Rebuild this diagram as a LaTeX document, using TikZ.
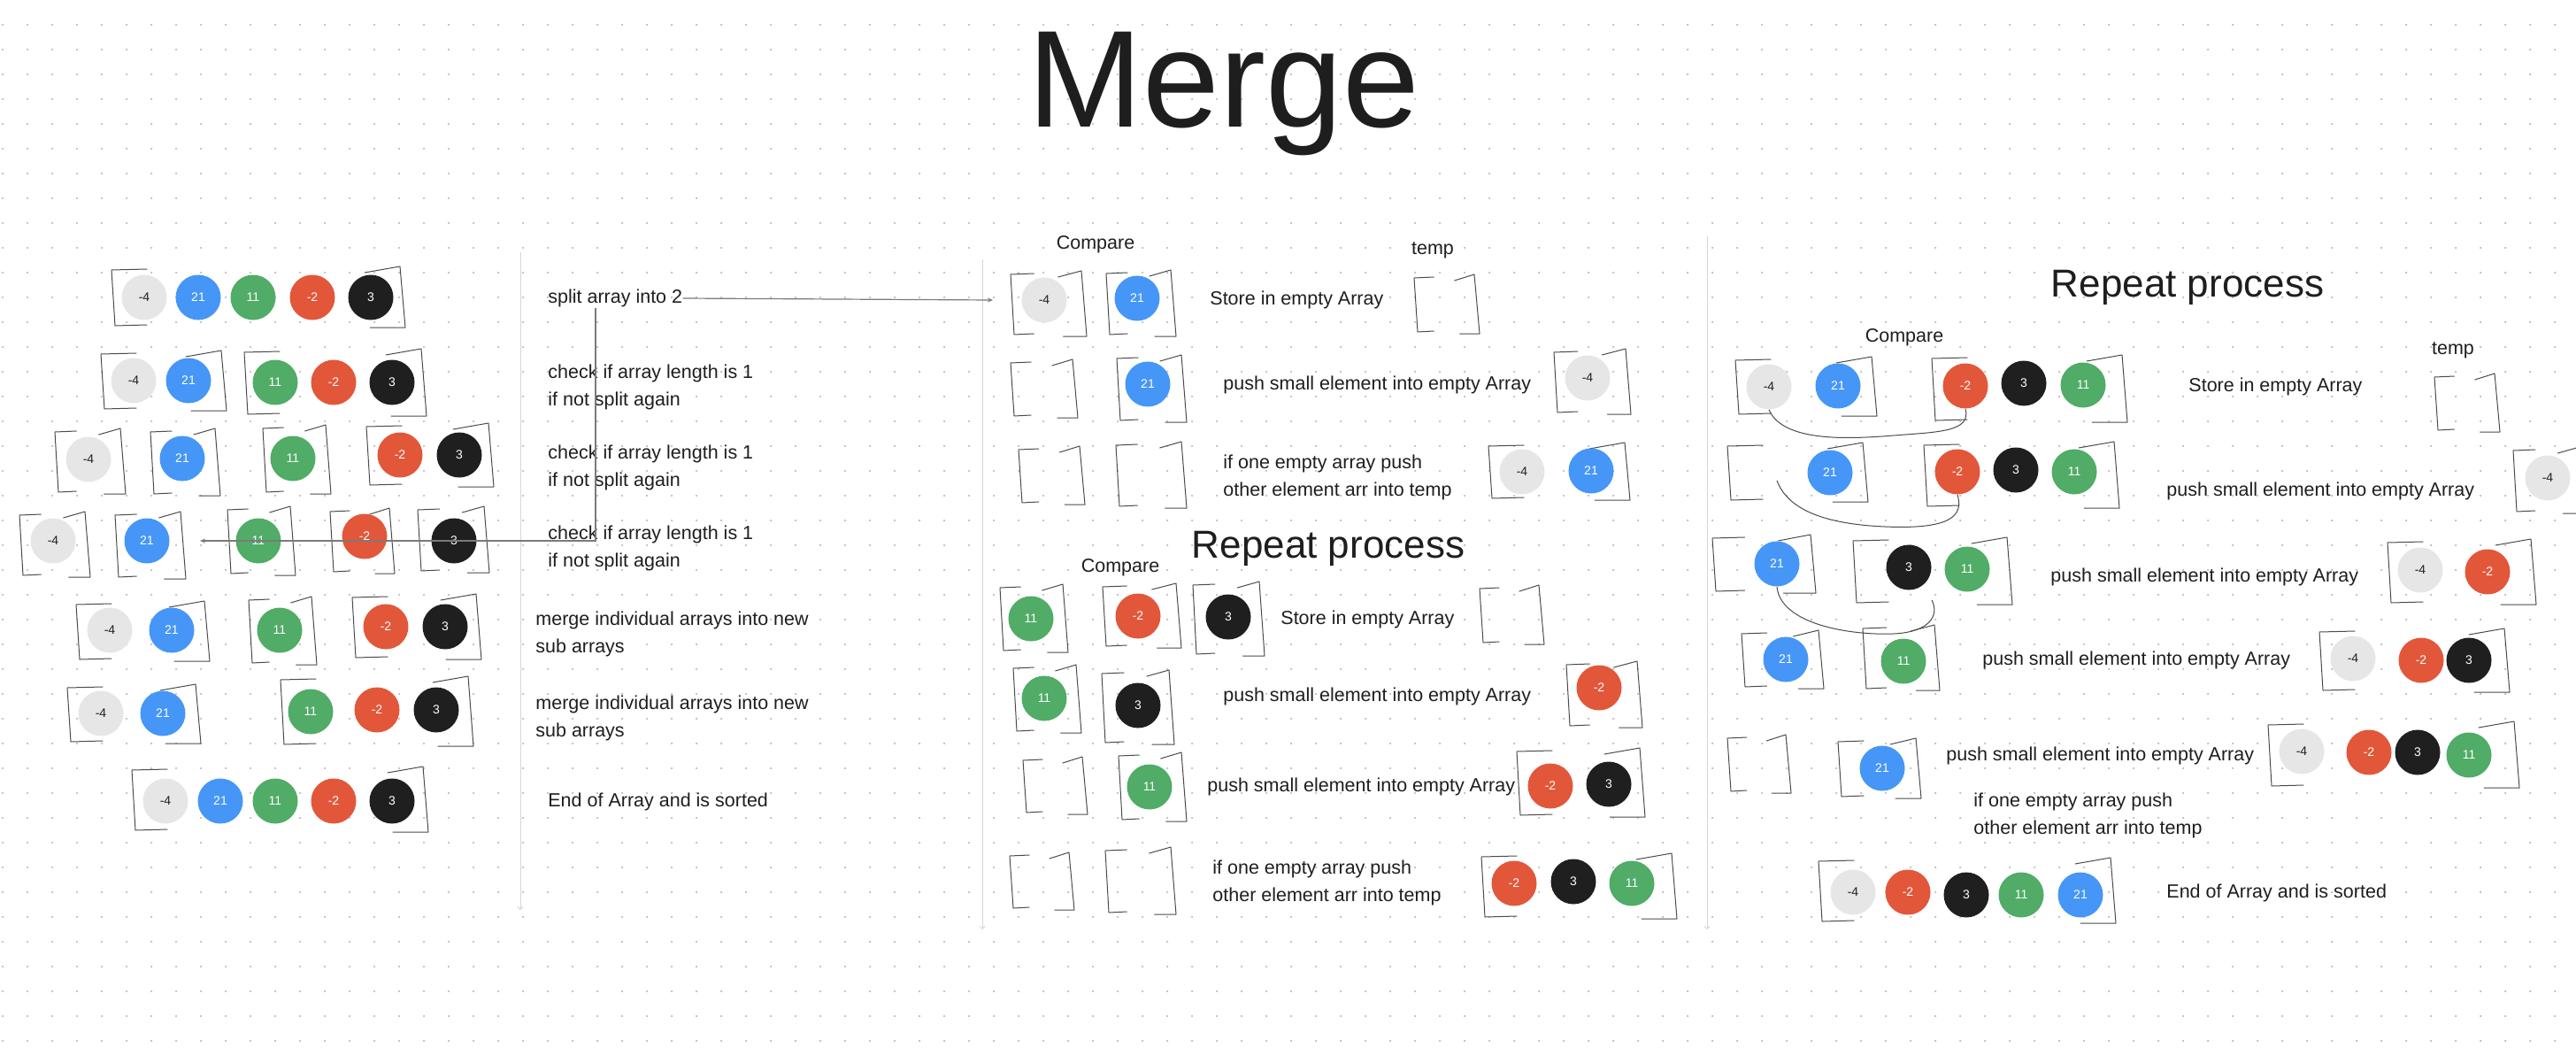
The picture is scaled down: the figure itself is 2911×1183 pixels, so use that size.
\documentclass[tikz,border=0pt]{standalone}
\usepackage{fontspec}
\setmainfont{Liberation Sans}
\usetikzlibrary{arrows.meta}
\definecolor{ink}{HTML}{1E1E1E}
\definecolor{elgray}{HTML}{E6E6E6}
\definecolor{elblue}{HTML}{4596F7}
\definecolor{elgreen}{HTML}{50AC66}
\definecolor{elred}{HTML}{E2573A}
\definecolor{elblack}{HTML}{1F1F1F}
\definecolor{dotgray}{HTML}{B4B4B4}
\definecolor{sepgray}{HTML}{D6D6D6}
\definecolor{linkgray}{HTML}{7A7A7A}
% hand drawn array brackets: x1 y1 x2 y2
\newcommand{\arrbox}[4]{%
  \pgfmathsetmacro{\tk}{min(40,0.33*(#3-#1))}%
  \draw[brk] ({#1+\tk},{#2-1}) -- (#1,#2) -- ({#1+4},#4) -- ({#1+\tk},{#4-1});
  \draw[brk] ({#3-\tk},{#2+3}) -- (#3,{#2-4}) -- ({#3+6},{#4+2}) -- ({#3-\tk+6},{#4+2});
}
\begin{document}
\begin{tikzpicture}[x=0.5pt,y=-0.5pt,
  el/.style={circle,minimum size=25.5pt,inner sep=0pt,font=\fontsize{7}{8}\selectfont},
  nm4/.style={el,fill=elgray,text=ink},
  n21/.style={el,fill=elblue,text=white},
  n11/.style={el,fill=elgreen,text=white},
  nm2/.style={el,fill=elred,text=white},
  n3/.style={el,fill=elblack,text=white},
  brk/.style={draw=ink!80,line width=0.5pt,line cap=round,line join=round},
  txt/.style={anchor=west,inner sep=0pt,align=left,text=ink,font=\fontsize{10.75}{15.5}\selectfont},
  lbl/.style={inner sep=0pt,text=ink,font=\fontsize{10.75}{13}\selectfont},
  heading/.style={inner sep=0pt,text=ink,font=\fontsize{22}{26}\selectfont},
  divider/.style={draw=sepgray,line width=0.5pt,-{Straight Barb[length=1.5pt,width=3pt]}},
  link/.style={draw=linkgray,line width=0.6pt,-{Stealth[length=3pt,width=2.5pt]}},
  cmpline/.style={draw=ink!80,line width=0.5pt},
  dotrow/.style={draw=dotgray,line width=1.1pt,line cap=round,dash pattern=on 0.1pt off 13.9pt}]
\useasboundingbox (0,0) rectangle (2911,1183);
\foreach \y in {28,56,...,1176} \draw[dotrow] (3,\y) -- (2911,\y);

\node[inner sep=0pt,anchor=base,text=ink,font=\fontsize{78}{80}\selectfont] (title) at (1383,143) {Merge};

\draw[divider] (588,285) -- (588,1028);
\draw[divider] (1110,293) -- (1110,1050);
\draw[divider] (1929,267) -- (1929,1050);

%%% left column: split then merge
\arrbox{126}{305}{452}{368}
\node[nm4] (a1-m4) at (163,336) {-4};
\node[n21] (a1-21) at (224,336) {21};
\node[n11] (a1-11) at (286,336) {11};
\node[nm2] (a1-m2) at (353,336) {-2};
\node[n3]  (a1-3)  at (419,336) {3};
\node[txt] (a1-txt) at (619,337) {split array into 2};

\arrbox{114}{400}{250}{462}
\arrbox{276}{398}{476}{468}
\node[nm4] (a2-m4) at (151,430) {-4};
\node[n21] (a2-21) at (213,430) {21};
\node[n11] (a2-11) at (311,432) {11};
\node[nm2] (a2-m2) at (377,432) {-2};
\node[n3]  (a2-3)  at (443,432) {3};
\node[txt] (a2-txt) at (619,437.5) {check if array length is 1\\if not split again};

\arrbox{62}{488}{136}{556}
\arrbox{170}{488}{243}{558}
\arrbox{297}{484}{368}{556}
\arrbox{414}{482}{552}{548}
\node[nm4] (a3-m4) at (100,519) {-4};
\node[n21] (a3-21) at (206,518) {21};
\node[n11] (a3-11) at (331,518) {11};
\node[nm2] (a3-m2) at (452,514) {-2};
\node[n3]  (a3-3)  at (519,514) {3};
\node[txt] (a3-txt) at (619,528) {check if array length is 1\\if not split again};

\arrbox{22}{582}{96}{650}
\arrbox{130}{582}{204}{652}
\arrbox{257}{576}{328}{648}
\arrbox{373}{578}{440}{646}
\arrbox{472}{576}{547}{645}
\node[nm4] (a4-m4) at (60,611) {-4};
\node[n21] (a4-21) at (166,611) {21};
\node[n11] (a4-11) at (292,611) {11};
\node[nm2] (a4-m2) at (412,606) {-2};
\node[n3]  (a4-3)  at (513,611) {3};
\node[txt] (a4-txt) at (619,619) {check if array length is 1\\if not split again};

\arrbox{86}{683}{231}{745}
\arrbox{281}{678}{352}{749}
\arrbox{398}{675}{538}{743}
\node[nm4] (a5-m4) at (124,712) {-4};
\node[n21] (a5-21) at (194,712) {21};
\node[n11] (a5-11) at (316,712) {11};
\node[nm2] (a5-m2) at (436,708) {-2};
\node[n3]  (a5-3)  at (503,708) {3};
\node[txt] (a5-txt) at (605,716.5) {merge individual arrays into new\\sub arrays};

\arrbox{76}{777}{221}{838}
\arrbox{317}{768}{529}{841}
\node[nm4] (a6-m4) at (114,806) {-4};
\node[n21] (a6-21) at (184,806) {21};
\node[n11] (a6-11) at (351,804) {11};
\node[nm2] (a6-m2) at (426,802) {-2};
\node[n3]  (a6-3)  at (493,802) {3};
\node[txt] (a6-txt) at (605,811.5) {merge individual arrays into new\\sub arrays};

\arrbox{149}{870}{478}{938}
\node[nm4] (a7-m4) at (187,905) {-4};
\node[n21] (a7-21) at (249,905) {21};
\node[n11] (a7-11) at (311,905) {11};
\node[nm2] (a7-m2) at (377,905) {-2};
\node[n3]  (a7-3)  at (443,905) {3};
\node[txt] (a7-txt) at (619,906) {End of Array and is sorted};

\coordinate (b1-in) at (1122,339);
\coordinate (a-drop) at (673,348);
\coordinate (a4-back) at (226,611);
\draw[link] (a1-txt.east) -- (b1-in);
\draw[link] (a-drop) |- (a4-back);

%%% middle column
\node[lbl] (b-cmp) at (1238,276) {Compare};
\node[lbl] (b-temp) at (1619,283) {temp};

\arrbox{1142}{310}{1222}{378}
\arrbox{1250}{309}{1323}{378}
\arrbox{1598}{314}{1666}{375}
\node[nm4] (b1-m4) at (1180,339) {-4};
\node[n21] (b1-21) at (1285,337) {21};
\node[txt] (b1-txt) at (1367,339) {Store in empty Array};

\arrbox{1142}{410}{1212}{470}
\arrbox{1262}{405}{1335}{475}
\arrbox{1756}{398}{1837}{466}
\node[n21] (b2-21) at (1297,434) {21};
\node[nm4] (b2-m4) at (1794,427) {-4};
\node[txt] (b2-txt) at (1382,435) {push small element into empty Array};

\arrbox{1151}{508}{1220}{568}
\arrbox{1261}{503}{1335}{572}
\arrbox{1682}{504}{1836}{563}
\node[nm4] (b3-m4) at (1720,533) {-4};
\node[n21] (b3-21) at (1798,532) {21};
\node[txt] (b3-txt) at (1382,539) {if one empty array push\\other element arr into temp};

\node[heading] (b-rep) at (1501,620) {Repeat process};
\node[lbl] (b-cmp2) at (1266,641) {Compare};

\arrbox{1130}{664}{1201}{735}
\arrbox{1246}{663}{1329}{730}
\arrbox{1348}{661}{1423}{739}
\arrbox{1672}{665}{1739}{726}
\node[n11] (b4-11) at (1165,699) {11};
\node[nm2] (b4-m2) at (1286,696) {-2};
\node[n3]  (b4-3)  at (1388,697) {3};
\node[txt] (b4-txt) at (1447,700) {Store in empty Array};

\arrbox{1145}{755}{1216}{826}
\arrbox{1245}{761}{1321}{839}
\arrbox{1770}{751}{1850}{820}
\node[n11] (b5-11) at (1180,789) {11};
\node[n3]  (b5-3)  at (1286,797) {3};
\node[nm2] (b5-m2) at (1807,777) {-2};
\node[txt] (b5-txt) at (1382,787) {push small element into empty Array};

\arrbox{1156}{859}{1223}{918}
\arrbox{1264}{854}{1335}{926}
\arrbox{1714}{849}{1853}{921}
\node[n11] (b6-11) at (1299,889) {11};
\node[nm2] (b6-m2) at (1752,888) {-2};
\node[n3]  (b6-3)  at (1818,886) {3};
\node[txt] (b6-txt) at (1364,889) {push small element into empty Array};

\arrbox{1141}{967}{1208}{1026}
\arrbox{1249}{961}{1323}{1031}
\arrbox{1674}{968}{1889}{1036}
\node[nm2] (b7-m2) at (1711,998) {-2};
\node[n3]  (b7-3)  at (1778,996) {3};
\node[n11] (b7-11) at (1844,998) {11};
\node[txt] (b7-txt) at (1370,997.5) {if one empty array push\\other element arr into temp};

%%% right column
\node[heading] (c-rep) at (2472,325) {Repeat process};
\node[lbl] (c-cmp) at (2152,381) {Compare};
\node[lbl] (c-temp) at (2772,396) {temp};

\arrbox{1961}{407}{2115}{468}
\arrbox{2183}{405}{2398}{475}
\arrbox{2751}{426}{2819}{486}
\node[nm4] (c1-m4) at (1999,437) {-4};
\node[n21] (c1-21) at (2077,436) {21};
\node[nm2] (c1-m2) at (2221,436) {-2};
\node[n3]  (c1-3)  at (2287,433) {3};
\node[n11] (c1-11) at (2354,435) {11};
\node[txt] (c1-txt) at (2473,437) {Store in empty Array};

\arrbox{1952}{504}{2105}{565}
\arrbox{2174}{503}{2389}{572}
\arrbox{2840}{509}{2915}{578}
\node[n21] (c2-21) at (2068,534) {21};
\node[nm2] (c2-m2) at (2212,533) {-2};
\node[n3]  (c2-3)  at (2278,531) {3};
\node[n11] (c2-11) at (2344,533) {11};
\node[nm4] (c2-m4) at (2879,540) {-4};
\node[txt] (c2-txt) at (2448,555) {push small element into empty Array};

\arrbox{1935}{608}{2046}{668}
\arrbox{2094}{611}{2268}{681}
\arrbox{2698}{613}{2860}{681}
\node[n21] (c3-21) at (2008,637) {21};
\node[n3]  (c3-3)  at (2157,641) {3};
\node[n11] (c3-11) at (2223,643) {11};
\node[nm4] (c3-m4) at (2735,644) {-4};
\node[nm2] (c3-m2) at (2811,646) {-2};
\node[txt] (c3-txt) at (2317,652) {push small element into empty Array};

\arrbox{1968}{716}{2055}{776}
\arrbox{2105}{710}{2186}{778}
\arrbox{2621}{714}{2830}{780}
\node[n21] (c4-21) at (2018,745) {21};
\node[n11] (c4-11) at (2151,747) {11};
\node[nm4] (c4-m4) at (2659,744) {-4};
\node[nm2] (c4-m2) at (2736,746) {-2};
\node[n3]  (c4-3)  at (2790,746) {3};
\node[txt] (c4-txt) at (2240,746) {push small element into empty Array};

\arrbox{1952}{834}{2018}{894}
\arrbox{2077}{838}{2165}{900}
\arrbox{2563}{819}{2841}{888}
\node[n21] (c5-21) at (2127,868) {21};
\node[nm4] (c5-m4) at (2601,849) {-4};
\node[nm2] (c5-m2) at (2677,850) {-2};
\node[n3]  (c5-3)  at (2732,850) {3};
\node[n11] (c5-11) at (2790,853) {11};
\node[txt] (c5-txt) at (2199,854) {push small element into empty Array};
\node[txt] (c5-note) at (2230,921.5) {if one empty array push\\other element arr into temp};

\arrbox{2055}{973}{2385}{1041}
\node[nm4] (c6-m4) at (2094,1008) {-4};
\node[nm2] (c6-m2) at (2156,1008) {-2};
\node[n3]  (c6-3)  at (2222,1011) {3};
\node[n11] (c6-11) at (2284,1011) {11};
\node[n21] (c6-21) at (2351,1011) {21};
\node[txt] (c6-txt) at (2448,1009) {End of Array and is sorted};

% compare marks
\coordinate (c2-gap) at (2008,543);
\coordinate (c3-hook) at (2183,678);
\draw[cmpline] (c1-m4.south) .. controls (2015,500) and (2090,496) .. (2140,492) .. controls (2190,488) and (2228,488) .. (c1-m2.south);
\draw[cmpline] (c2-gap) .. controls (2020,575) and (2060,592) .. (2130,595) .. controls (2200,598) and (2220,585) .. (c2-m2.south);
\draw[cmpline] (c3-21.south) .. controls (2012,705) and (2090,718) .. (2140,716) .. controls (2180,714) and (2192,696) .. (c3-hook);
\end{tikzpicture}
\end{document}
